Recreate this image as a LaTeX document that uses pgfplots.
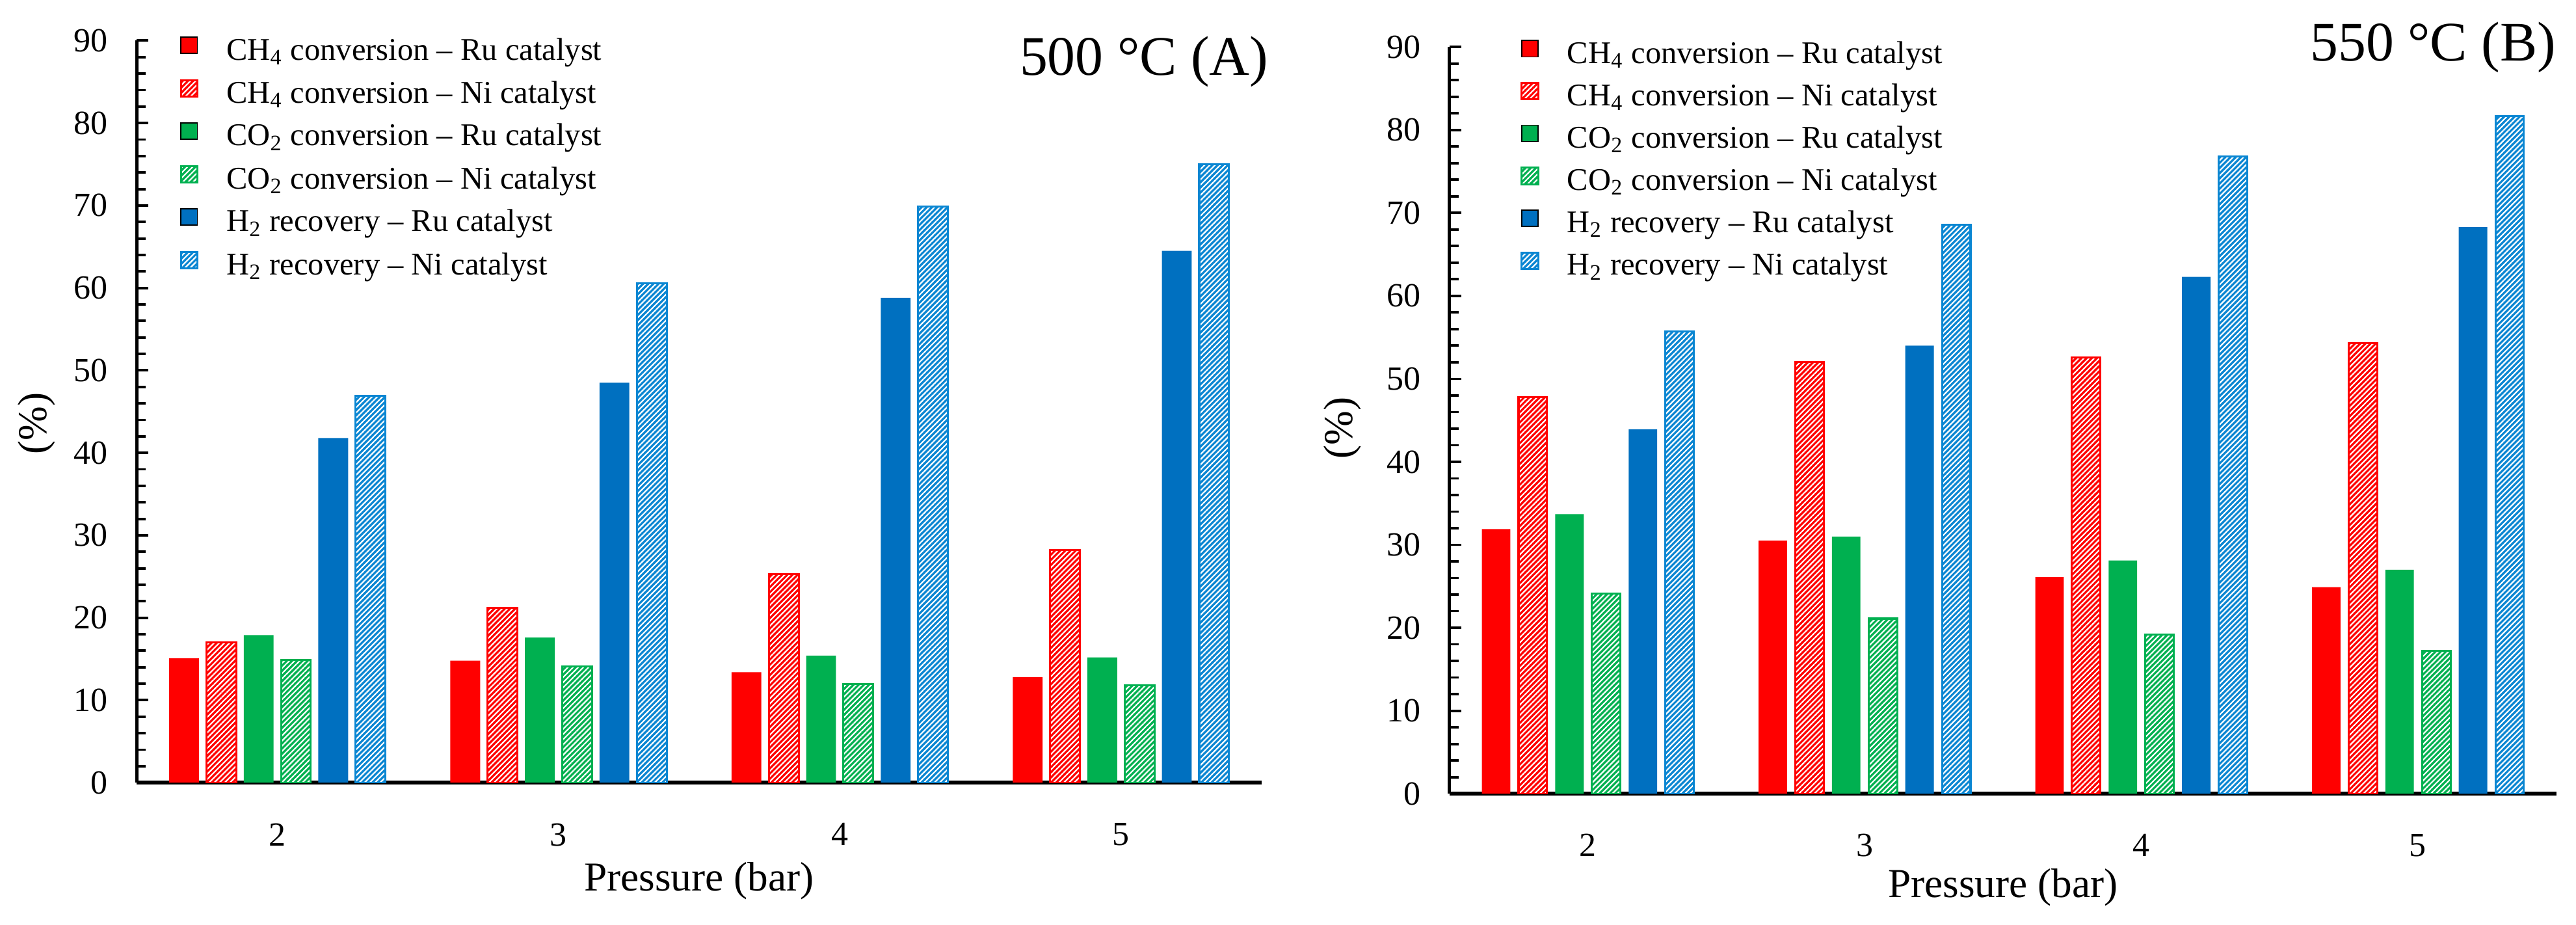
\documentclass[border=0pt]{standalone}
\usepackage{pgfplots}
\pgfplotsset{compat=1.18}
\usepackage{fontspec}
\setmainfont{Liberation Serif}
\usetikzlibrary{patterns.meta}
\definecolor{cred}{HTML}{FF0000}
\definecolor{cgreen}{HTML}{00B050}
\definecolor{cblue}{HTML}{0070C0}
\definecolor{nired}{HTML}{FF0000}
\definecolor{nigreen}{HTML}{00B050}
\definecolor{niblue}{HTML}{0A86D2}
\pgfplotsset{
 panel/.style={
  scale only axis, xmin=1.5, xmax=5.5, ymin=0, ymax=90,
  axis x line*=bottom, axis y line*=left,
  xtick={2,3,4,5}, ytick={0,10,...,90}, minor y tick num=4,
  tick align=inside, major tick length=4.2pt, minor tick length=3.2pt,
  x axis line style={line width=1.3pt},
  y axis line style={line width=1.1pt},
  major tick style={line width=0.9pt,black},
  minor tick style={line width=0.9pt,black},
  xtick style={draw=none},
  every tick label/.append style={font=\fontsize{12}{14}\selectfont},
  /pgf/number format/assume math mode=true,
  yticklabel style={inner sep=0pt, xshift=-10pt},
  xticklabel style={inner sep=0pt, yshift=-10pt},
  ylabel={(\%)}, xlabel={Pressure (bar)},
  label style={font=\fontsize{14.6}{17}\selectfont},
  ybar, bar width=0.106,
  legend style={draw=none, fill=none, inner sep=0pt, column sep=10pt,
    font=\fontsize{11.2}{13}\selectfont, cells={anchor=west},
    nodes={inner sep=0pt, text height=7pt, text depth=2.5pt}},
  legend image code/.code={\draw[##1] (0pt,0pt) rectangle (5.8pt,5.8pt);},
  legend cell align=left,
 },
 ru/.style={fill=#1, draw=none},
 ni/.style={fill=#1, draw=#1, line width=0.7pt,
   postaction={pattern={Lines[angle=45,distance=1.3pt,line width=0.5pt]}, pattern color=white}},
}
\begin{document}
\begin{tikzpicture}
\path[use as bounding box] (0,0) rectangle (914.2pt,328pt);
% ---------- Panel A ----------
\begin{axis}[panel, at={(48.5pt,50.3pt)}, anchor=south west,
  width=399.2pt, height=263.3pt,
  ylabel style={at={(axis description cs:-0.0889,0.484)}, anchor=center},
  xlabel style={at={(axis description cs:0.5,-0.1455)}, anchor=base},
  legend style={at={(0.038,1.0061)}, anchor=north west, row sep=4.4pt}]
\addplot[ru=cred, bar shift=-0.3315] coordinates {(2,15.1) (3,14.8) (4,13.4) (5,12.8)};
\addlegendentry{CH\textsubscript{4} conversion – Ru catalyst}
\addplot[ni=nired, bar shift=-0.1989] coordinates {(2,17.0) (3,21.2) (4,25.3) (5,28.2)};
\addlegendentry{CH\textsubscript{4} conversion – Ni catalyst}
\addplot[ru=cgreen, bar shift=-0.0663] coordinates {(2,17.9) (3,17.6) (4,15.4) (5,15.2)};
\addlegendentry{CO\textsubscript{2} conversion – Ru catalyst}
\addplot[ni=nigreen, bar shift=0.0663] coordinates {(2,14.9) (3,14.1) (4,12.0) (5,11.8)};
\addlegendentry{CO\textsubscript{2} conversion – Ni catalyst}
\addplot[ru=cblue, bar shift=0.1989] coordinates {(2,41.8) (3,48.5) (4,58.8) (5,64.5)};
\addlegendentry{H\textsubscript{2} recovery – Ru catalyst}
\addplot[ni=niblue, bar shift=0.3315] coordinates {(2,46.9) (3,60.6) (4,69.9) (5,75.0)};
\addlegendentry{H\textsubscript{2} recovery – Ni catalyst}
\end{axis}
\node[anchor=base east, inner sep=0pt, font=\fontsize{19.8}{22}\selectfont] at (450.3pt,301.4pt) {500 °C (A)};
% ---------- Panel B ----------
\begin{axis}[panel, at={(514.4pt,46.4pt)}, anchor=south west,
  width=392.8pt, height=264.9pt, bar width=0.103,
  ylabel style={at={(axis description cs:-0.0967,0.49)}, anchor=center},
  xlabel style={at={(axis description cs:0.5,-0.1393)}, anchor=base},
  legend style={at={(0.0639,1.0103)}, anchor=north west, row sep=4.2pt}]
\addplot[ru=cred, bar shift=-0.3315] coordinates {(2,31.9) (3,30.5) (4,26.1) (5,24.9)};
\addlegendentry{CH\textsubscript{4} conversion – Ru catalyst}
\addplot[ni=nired, bar shift=-0.1989] coordinates {(2,47.8) (3,52.0) (4,52.6) (5,54.3)};
\addlegendentry{CH\textsubscript{4} conversion – Ni catalyst}
\addplot[ru=cgreen, bar shift=-0.0663] coordinates {(2,33.7) (3,31.0) (4,28.1) (5,27.0)};
\addlegendentry{CO\textsubscript{2} conversion – Ru catalyst}
\addplot[ni=nigreen, bar shift=0.0663] coordinates {(2,24.1) (3,21.1) (4,19.2) (5,17.2)};
\addlegendentry{CO\textsubscript{2} conversion – Ni catalyst}
\addplot[ru=cblue, bar shift=0.1989] coordinates {(2,43.9) (3,54.0) (4,62.3) (5,68.3)};
\addlegendentry{H\textsubscript{2} recovery – Ru catalyst}
\addplot[ni=niblue, bar shift=0.3315] coordinates {(2,55.7) (3,68.6) (4,76.8) (5,81.7)};
\addlegendentry{H\textsubscript{2} recovery – Ni catalyst}
\end{axis}
\node[anchor=base east, inner sep=0pt, font=\fontsize{19.8}{22}\selectfont] at (907.2pt,306.5pt) {550 °C (B)};
\end{tikzpicture}
\end{document}
